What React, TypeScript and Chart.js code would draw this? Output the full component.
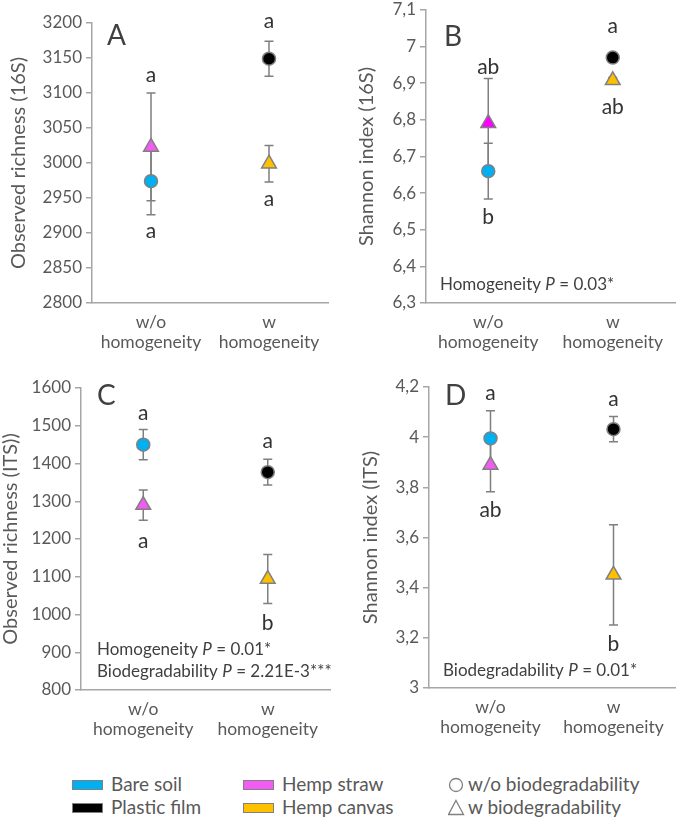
import React, { useEffect, useRef } from 'react';
import { Chart, registerables } from 'chart.js';

Chart.register(...registerables);

// ---------- shared data ----------
const categories = [['w/o', 'homogeneity'], ['w', 'homogeneity']];
const seriesNames = ['Bare soil', 'Plastic film', 'Hemp straw', 'Hemp canvas'];
const seriesShapes = ['circle', 'circle', 'triangle', 'triangle'];
const seriesCategory = [0, 1, 0, 1];
const seriesColors = ['#00B0F0', '#000000', '#F25CF2', '#FFC000'];
const seriesColorsB = ['#00B0F0', '#000000', '#FF00FF', '#FFC000'];

// ---------- panel A : Observed richness (16S) ----------
const richness16SValues = [2974, 3149, 3023, 2999];
const richness16SErrors = [48, 25, 77, 26];
const richness16SLetters = ['a', 'a', 'a', 'a'];
const richness16SLetterAt = [2893, 3193, 3116, 2938];
const richness16STicks = [2800, 2850, 2900, 2950, 3000, 3050, 3100, 3150, 3200];
const richness16SNotes: string[][] = [];

// ---------- panel B : Shannon index (16S) ----------
const shannon16SValues = [6.66, 6.97, 6.791, 6.908];
const shannon16SErrors = [0.076, 0.012, 0.122, 0.008];
const shannon16SLetters = ['b', 'a', 'ab', 'ab'];
const shannon16SLetterAt = [6.516, 7.037, 6.926, 6.816];
const shannon16STicks = [6.3, 6.4, 6.5, 6.6, 6.7, 6.8, 6.9, 7.0, 7.1];
const shannon16SNotes = [['Homogeneity ', 'P', ' = 0.03*']];

// ---------- panel C : Observed richness (ITS) ----------
const richnessITSValues = [1450, 1377, 1290, 1094];
const richnessITSErrors = [40, 34, 40, 65];
const richnessITSLetters = ['a', 'a', 'a', 'b'];
const richnessITSLetterAt = [1516, 1441, 1176, 959];
const richnessITSTicks = [800, 900, 1000, 1100, 1200, 1300, 1400, 1500, 1600];
const richnessITSNotes = [
  ['Homogeneity ', 'P', ' = 0.01*'],
  ['Biodegradability ', 'P', ' = 2.21E-3***'],
];

// ---------- panel D : Shannon index (ITS) ----------
const shannonITSValues = [3.995, 4.032, 3.889, 3.451];
const shannonITSErrors = [0.11, 0.05, 0.107, 0.2];
const shannonITSLetters = ['a', 'a', 'ab', 'b'];
const shannonITSLetterAt = [4.15, 4.123, 3.683, 3.146];
const shannonITSTicks = [3.0, 3.2, 3.4, 3.6, 3.8, 4.0, 4.2];
const shannonITSNotes = [['Biodegradability ', 'P', ' = 0.01*']];

// ---------- legend ----------
const legendMaterials = ['Bare soil', 'Plastic film', 'Hemp straw', 'Hemp canvas'];
const legendShapes = ['w/o biodegradability', 'w biodegradability'];

// ---------- styling ----------
const FONT = 'Lato, "Open Sans", sans-serif';
const AXIS_GREY = '#A6A6A6';
const TEXT_GREY = '#595959';
const DARK_TEXT = '#333333';
const ERR_GREY = '#7F7F7F';
const MARKER_BORDER = '#808080';

type PanelDef = {
  tag: string;
  left: number; top: number; w: number; h: number;
  area: { l: number; r: number; t: number; b: number };
  values: number[]; errors: number[];
  letters: string[]; letterAt: number[];
  ticks: number[]; comma: boolean;
  title: string; titlePad: number;
  notes: string[][];
  tagPos: { dx: number; dy: number };
  notePos: { dx: number; bottom: number; gap: number };
  colors: string[];
};

const panels: PanelDef[] = [
  {
    tag: 'A', left: 0, top: 0, w: 340, h: 360,
    area: { l: 92, r: 328, t: 23, b: 303 },
    values: richness16SValues, errors: richness16SErrors,
    letters: richness16SLetters, letterAt: richness16SLetterAt,
    ticks: richness16STicks, comma: false,
    title: 'Observed richness (16S)', titlePad: 7,
    notes: richness16SNotes,
    tagPos: { dx: 15, dy: 22 },
    notePos: { dx: 14, bottom: 13, gap: 22 },
    colors: seriesColors,
  },
  {
    tag: 'B', left: 340, top: 0, w: 345, h: 360,
    area: { l: 86, r: 336, t: 7, b: 303 },
    values: shannon16SValues, errors: shannon16SErrors,
    letters: shannon16SLetters, letterAt: shannon16SLetterAt,
    ticks: shannon16STicks, comma: true,
    title: 'Shannon index (16S)', titlePad: 15,
    notes: shannon16SNotes,
    tagPos: { dx: 18, dy: 36 },
    notePos: { dx: 14, bottom: 13, gap: 22 },
    colors: seriesColorsB,
  },
  {
    tag: 'C', left: 0, top: 360, w: 340, h: 390,
    area: { l: 81, r: 335, t: 28, b: 330 },
    values: richnessITSValues, errors: richnessITSErrors,
    letters: richnessITSLetters, letterAt: richnessITSLetterAt,
    ticks: richnessITSTicks, comma: false,
    title: 'Observed richness (ITS))', titlePad: -1,
    notes: richnessITSNotes,
    tagPos: { dx: 16, dy: 17 },
    notePos: { dx: 16, bottom: 13, gap: 22 },
    colors: seriesColors,
  },
  {
    tag: 'D', left: 340, top: 360, w: 345, h: 390,
    area: { l: 89, r: 344, t: 27, b: 328 },
    values: shannonITSValues, errors: shannonITSErrors,
    letters: shannonITSLetters, letterAt: shannonITSLetterAt,
    ticks: shannonITSTicks, comma: true,
    title: 'Shannon index (ITS)', titlePad: 19,
    notes: shannonITSNotes,
    tagPos: { dx: 16, dy: 18 },
    notePos: { dx: 14, bottom: 12, gap: 22 },
    colors: seriesColors,
  },
];

const errorBarPlugin = {
  id: 'errorBars',
  beforeDatasetsDraw(chart: any) {
    const ctx = chart.ctx;
    const yScale = chart.scales.y;
    chart.data.datasets.forEach((ds: any, di: number) => {
      const meta = chart.getDatasetMeta(di);
      ds.data.forEach((v: number | null, i: number) => {
        if (v == null) return;
        const x = meta.data[i].x;
        const e = ds.errors;
        const y1 = yScale.getPixelForValue(v + e);
        const y2 = yScale.getPixelForValue(v - e);
        ctx.save();
        ctx.strokeStyle = ERR_GREY;
        ctx.lineWidth = 1.5;
        ctx.beginPath();
        ctx.moveTo(x, y1); ctx.lineTo(x, y2);
        ctx.moveTo(x - 4.5, y1); ctx.lineTo(x + 4.5, y1);
        ctx.moveTo(x - 4.5, y2); ctx.lineTo(x + 4.5, y2);
        ctx.stroke();
        ctx.restore();
      });
    });
  },
};

const textPlugin = {
  id: 'panelText',
  afterDraw(chart: any, _args: any, opts: any) {
    const def: PanelDef = opts.def;
    if (!def) return;
    const ctx = chart.ctx;
    const area = chart.chartArea;
    const xs = chart.scales.x;
    const ys = chart.scales.y;
    ctx.save();
    // panel tag
    ctx.font = `28px ${FONT}`;
    ctx.fillStyle = '#404040';
    ctx.textAlign = 'left';
    ctx.textBaseline = 'alphabetic';
    ctx.fillText(def.tag, area.left + def.tagPos.dx, area.top + def.tagPos.dy);
    // significance letters
    ctx.font = `21px ${FONT}`;
    ctx.fillStyle = DARK_TEXT;
    ctx.textAlign = 'center';
    def.letters.forEach((t, s) => {
      const x = xs.getPixelForValue(seriesCategory[s]);
      const y = ys.getPixelForValue(def.letterAt[s]);
      ctx.fillText(t, x, y);
    });
    // notes
    ctx.textAlign = 'left';
    ctx.fillStyle = '#404040';
    const n = def.notes.length;
    def.notes.forEach((segs, k) => {
      let x = area.left + def.notePos.dx;
      const y = area.bottom - def.notePos.bottom - (n - 1 - k) * def.notePos.gap;
      segs.forEach((seg, j) => {
        ctx.font = `${j === 1 ? 'italic ' : ''}17px ${FONT}`;
        ctx.fillText(seg, x, y);
        x += ctx.measureText(seg).width;
      });
    });
    ctx.restore();
  },
};

function Panel({ def }: { def: PanelDef }) {
  const ref = useRef<HTMLCanvasElement>(null);
  useEffect(() => {
    const canvas = ref.current!;
    const a = def.area;
    const chart = new Chart(canvas, {
      type: 'line',
      data: {
        labels: categories as any,
        datasets: seriesNames.map((name, s) => ({
          label: name,
          data: categories.map((_, i) => (i === seriesCategory[s] ? def.values[s] : null)),
          errors: def.errors[s],
          showLine: false,
          pointStyle: seriesShapes[s],
          pointRadius: seriesShapes[s] === 'circle' ? 6.5 : 8.5,
          pointBackgroundColor: def.colors[s],
          pointBorderColor: MARKER_BORDER,
          pointBorderWidth: 1.5,
        })) as any,
      },
      options: {
        responsive: false,
        animation: false,
        devicePixelRatio: 1,
        events: [],
        layout: { padding: { left: 0, top: a.t, right: def.w - a.r, bottom: 0 } },
        plugins: {
          legend: { display: false },
          tooltip: { enabled: false },
          panelText: { def },
        } as any,
        scales: {
          x: {
            type: 'category',
            offset: true,
            grid: { display: false, drawTicks: false },
            border: { display: true, color: AXIS_GREY, width: 1.5 },
            ticks: {
              font: { family: FONT, size: 17.5, lineHeight: 1.15 },
              color: TEXT_GREY,
              padding: 9,
              autoSkip: false,
              maxRotation: 0,
            },
            afterFit: (scale: any) => {
              scale.height = def.h - a.b;
              scale.paddingLeft = 0;
              scale.paddingRight = 0;
            },
          },
          y: {
            type: 'linear',
            min: def.ticks[0],
            max: def.ticks[def.ticks.length - 1],
            afterBuildTicks: (scale: any) => {
              scale.ticks = def.ticks.map((v) => ({ value: v }));
            },
            grid: {
              display: true,
              drawOnChartArea: false,
              drawTicks: true,
              tickLength: 6,
              color: AXIS_GREY,
              lineWidth: 1.5,
            },
            border: { display: true, color: AXIS_GREY, width: 1.5 },
            ticks: {
              font: { family: FONT, size: 17 },
              color: TEXT_GREY,
              padding: 4,
              callback: (v: any) => (def.comma ? String(Math.round(Number(v) * 10) / 10).replace('.', ',') : String(v)),
            },
            title: {
              display: true,
              text: def.title,
              font: { family: FONT, size: 20 },
              color: TEXT_GREY,
              padding: { top: def.titlePad, bottom: 0 },
            },
            afterFit: (scale: any) => {
              scale.width = a.l;
              scale.paddingTop = 0;
              scale.paddingBottom = 0;
            },
          },
        },
      },
      plugins: [errorBarPlugin, textPlugin],
    } as any);
    return () => chart.destroy();
  }, [def]);
  return (
    <canvas
      ref={ref}
      width={def.w}
      height={def.h}
      style={{ position: 'absolute', left: def.left, top: def.top, width: def.w, height: def.h }}
    />
  );
}

function Legend() {
  const textStyle: React.CSSProperties = {
    position: 'absolute', font: `19px ${FONT}`, color: TEXT_GREY, lineHeight: '20px', whiteSpace: 'nowrap',
  };
  const boxes = [
    { x: 72, y: 785, i: 0 },
    { x: 72, y: 808, i: 1 },
    { x: 243, y: 785, i: 2 },
    { x: 243, y: 808, i: 3 },
  ];
  return (
    <>
      {boxes.map((b) => (
        <React.Fragment key={b.i}>
          <div
            style={{
              position: 'absolute', left: b.x, top: b.y - 5, width: 29, height: 8,
              background: seriesColors[b.i], border: `1.5px solid ${MARKER_BORDER}`,
            }}
          />
          <div style={{ ...textStyle, left: b.x + 39, top: b.y - 11 }}>{legendMaterials[b.i]}</div>
        </React.Fragment>
      ))}
      <svg style={{ position: 'absolute', left: 448, top: 777 }} width={18} height={18}>
        <circle cx={8} cy={8} r={6.5} fill="none" stroke="#808080" strokeWidth={1.3} />
      </svg>
      <div style={{ ...textStyle, left: 468, top: 774 }}>{legendShapes[0]}</div>
      <svg style={{ position: 'absolute', left: 448, top: 799 }} width={18} height={18}>
        <polygon points="8,1.5 15.5,15.5 0.5,15.5" fill="none" stroke="#808080" strokeWidth={1.3} />
      </svg>
      <div style={{ ...textStyle, left: 468, top: 797 }}>{legendShapes[1]}</div>
    </>
  );
}

export default function App() {
  return (
    <div style={{ position: 'absolute', left: 0, top: 0, width: 685, height: 822, background: '#fff', overflow: 'hidden' }}>
      {panels.map((p) => (
        <Panel key={p.tag} def={p} />
      ))}
      <Legend />
    </div>
  );
}
